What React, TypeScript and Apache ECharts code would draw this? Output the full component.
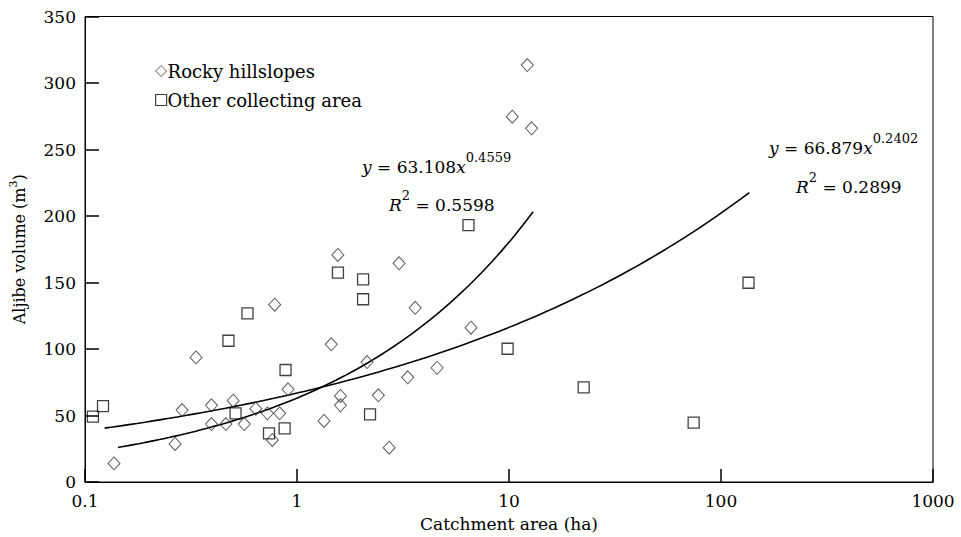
import React, { useEffect, useRef } from "react";
import * as echarts from "echarts";

// Rocky hillslopes: [catchment area (ha), aljibe volume (m3)]
const rockyHillslopes: [number, number][] = [
  [0.137, 14], [0.266, 28.6], [0.287, 54.1], [0.334, 93.7], [0.395, 57.7],
  [0.395, 43.6], [0.462, 43.6], [0.5, 61.1], [0.564, 43.6], [0.639, 55.1],
  [0.725, 51.6], [0.765, 31.6], [0.785, 133.3], [0.828, 51.6], [0.907, 69.7],
  [1.34, 45.9], [1.45, 103.5], [1.558, 170.7], [1.603, 64.7], [1.603, 57.7],
  [2.14, 90.2], [2.42, 65.2], [2.72, 25.8], [3.03, 164.4], [3.33, 78.7],
  [3.61, 131], [4.58, 85.9], [6.62, 116], [10.36, 274.7], [12.2, 313.5],
  [12.78, 265.9],
];

// Other collecting area
const otherArea: [number, number][] = [
  [0.109, 49.1], [0.1216, 57.1], [0.475, 106.2], [0.513, 51.6], [0.584, 126.8],
  [0.738, 36.6], [0.874, 40.3], [0.883, 84.2], [1.56, 157.4], [2.05, 152.4],
  [2.05, 137.4], [2.21, 50.9], [6.44, 193.2], [9.85, 100.2], [22.5, 71.2],
  [74.3, 44.6], [134.8, 149.8],
];

// Fitted power laws shown on the chart: y = a * x^b, drawn over [xStart, xEnd]
const fitRocky = { a: 63.108, b: 0.4559, xStart: 0.143, xEnd: 13.0 };
const fitOther = { a: 66.879, b: 0.2402, xStart: 0.1238, xEnd: 136 };

const xTickLabels = ["0.1", "1", "10", "100", "1000"];
const yTickLabels = ["0", "50", "100", "150", "200", "250", "300", "350"];

const FONT = "'DejaVu Serif', 'Liberation Serif', serif";

function fitCurve(f: { a: number; b: number; xStart: number; xEnd: number }) {
  const n = 80;
  const l0 = Math.log10(f.xStart);
  const l1 = Math.log10(f.xEnd);
  const pts: [number, number][] = [];
  for (let i = 0; i <= n; i++) {
    const x = Math.pow(10, l0 + ((l1 - l0) * i) / n);
    pts.push([x, f.a * Math.pow(x, f.b)]);
  }
  return pts;
}

const richEq = {
  i: { fontFamily: FONT, fontSize: 17, fontStyle: "italic", color: "#000", lineHeight: 24, verticalAlign: "bottom" },
  n: { fontFamily: FONT, fontSize: 17, color: "#000", lineHeight: 24, verticalAlign: "bottom" },
  s: { fontFamily: FONT, fontSize: 13, color: "#000", lineHeight: 24, verticalAlign: "top" },
};

export default function App() {
  const ref = useRef<HTMLDivElement>(null);
  useEffect(() => {
    if (!ref.current) return;
    const chart = echarts.init(ref.current, undefined, { renderer: "svg" });
    chart.setOption({
      animation: false,
      backgroundColor: "#fff",
      textStyle: { fontFamily: FONT, color: "#000" },
      grid: {
        left: 82,
        right: 28,
        top: 16.5,
        bottom: 55,
        show: true,
        borderColor: "#000",
        borderWidth: 1,
        backgroundColor: "transparent",
        z: 0,
      },
      legend: {
        orient: "vertical",
        left: 150,
        top: 57,
        itemWidth: 11,
        itemHeight: 11,
        itemGap: 11,
        data: [
          {
            name: "Rocky hillslopes",
            itemStyle: { color: "#fff", borderColor: "#333", borderWidth: 1 },
          },
          {
            name: "Other collecting area",
            itemStyle: { color: "#fff", borderColor: "#111", borderWidth: 1.2 },
          },
        ],
        textStyle: { fontFamily: FONT, fontSize: 18, color: "#000", padding: [0, 0, 0, -4] },
      },
      xAxis: {
        type: "log",
        logBase: 10,
        min: 0.1,
        max: 1000,
        name: "Catchment area (ha)",
        nameLocation: "middle",
        nameGap: 33,
        nameTextStyle: { fontFamily: FONT, fontSize: 17, color: "#000" },
        axisLine: { show: true, onZero: false, lineStyle: { color: "#000", width: 1 } },
        axisTick: { show: true, inside: true, length: 13, lineStyle: { color: "#000", width: 1.5 } },
        minorTick: { show: false },
        splitLine: { show: false },
        axisLabel: {
          fontFamily: FONT,
          fontSize: 17,
          color: "#000",
          margin: 10,
          formatter: (v: number) => {
            const idx = Math.round(Math.log10(v)) + 1;
            return xTickLabels[idx] ?? String(v);
          },
        },
        z: 5,
      },
      yAxis: {
        type: "value",
        min: 0,
        max: 350,
        interval: 50,
        name: "Aljibe volume (m{sup|3})",
        nameLocation: "middle",
        nameGap: 55,
        nameTextStyle: {
          fontFamily: FONT,
          fontSize: 16,
          color: "#000",
          lineHeight: 22,
          rich: {
            sup: { fontFamily: FONT, fontSize: 11, color: "#000", lineHeight: 22, verticalAlign: "top" },
          },
        },
        axisLine: { show: true, onZero: false, lineStyle: { color: "#000", width: 1 } },
        axisTick: { show: true, inside: true, length: 14, lineStyle: { color: "#000", width: 1.5 } },
        splitLine: { show: false },
        axisLabel: {
          fontFamily: FONT,
          fontSize: 17,
          color: "#000",
          margin: 9,
          formatter: (v: number) => yTickLabels[Math.round(v / 50)] ?? String(v),
        },
        z: 5,
      },
      series: [
        {
          name: "Rocky hillslopes fit",
          type: "line",
          data: fitCurve(fitRocky),
          showSymbol: false,
          smooth: false,
          lineStyle: { color: "#000", width: 1.6 },
          z: 1,
        },
        {
          name: "Other collecting area fit",
          type: "line",
          data: fitCurve(fitOther),
          showSymbol: false,
          smooth: false,
          lineStyle: { color: "#000", width: 1.6 },
          z: 1,
        },
        {
          name: "Rocky hillslopes",
          type: "scatter",
          symbol: "diamond",
          symbolSize: [12, 13],
          data: rockyHillslopes,
          itemStyle: { color: "rgba(255,255,255,0)", borderColor: "#333", borderWidth: 1 },
          z: 3,
        },
        {
          name: "Other collecting area",
          type: "scatter",
          symbol: "rect",
          symbolSize: 11,
          data: otherArea,
          itemStyle: { color: "rgba(255,255,255,0)", borderColor: "#111", borderWidth: 1.3 },
          z: 3,
        },
      ],
      graphic: [
        {
          type: "text",
          left: 362,
          top: 151,
          style: { text: "{i|y}{n| = 63.108}{i|x}{s|0.4559}", rich: richEq },
        },
        {
          type: "text",
          left: 389,
          top: 189,
          style: { text: "{i|R}{s|2}{n| = 0.5598}", rich: richEq },
        },
        {
          type: "text",
          left: 769,
          top: 132,
          style: { text: "{i|y}{n| = 66.879}{i|x}{s|0.2402}", rich: richEq },
        },
        {
          type: "text",
          left: 796,
          top: 171,
          style: { text: "{i|R}{s|2}{n| = 0.2899}", rich: richEq },
        },
      ],
    });
    return () => chart.dispose();
  }, []);
  return <div ref={ref} style={{ width: 961, height: 537, position: "fixed", left: 0, top: 0 }} />;
}
